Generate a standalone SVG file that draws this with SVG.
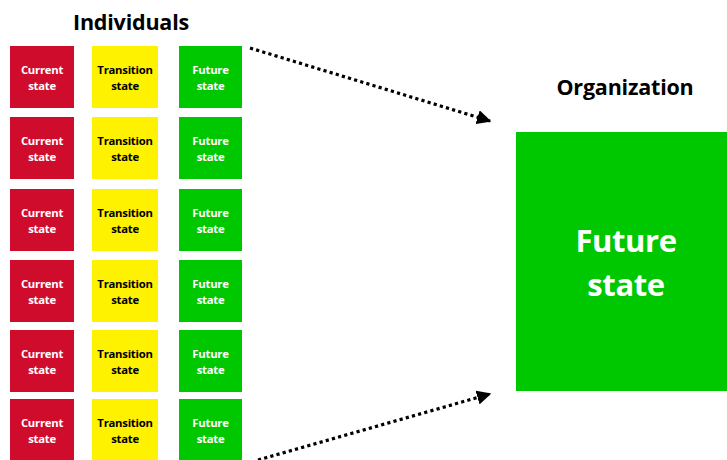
<svg xmlns="http://www.w3.org/2000/svg" width="727" height="460" viewBox="0 0 727 460">
  <defs>
    <style>
      .cur { fill: #d00c2d; }
      .tra { fill: #fff200; }
      .fut { fill: #00c800; }
      .lbl { font-family: "Open Sans", "Liberation Sans", sans-serif; font-weight: bold; font-size: 11.3px; text-anchor: middle; letter-spacing: -0.25px; }
      .w { fill: #ffffff; }
      .k { fill: #000000; }
      .head { font-family: "Open Sans", "Liberation Sans", sans-serif; font-weight: bold; font-size: 21.5px; text-anchor: middle; fill: #000; letter-spacing: -0.2px; }
      .big { font-family: "Open Sans", "Liberation Sans", sans-serif; font-weight: bold; font-size: 31px; text-anchor: middle; fill: #fff; letter-spacing: -0.4px; }
      .conn { fill: none; stroke: #000; stroke-width: 3.2; stroke-dasharray: 3.2 3.2; }
    </style>
    <marker id="arrow" viewBox="0 0 10 10" refX="9" refY="5" markerWidth="4.5" markerHeight="4.5" markerUnits="strokeWidth" orient="auto">
      <path d="M0,0 L10,5 L0,10 z" fill="#000"/>
    </marker>
    <g id="cell-cur">
      <rect class="cur" x="0" y="0" width="64" height="62"/>
      <text class="lbl w" x="32" y="28">Current</text>
      <text class="lbl w" x="32" y="44">state</text>
    </g>
    <g id="cell-tra">
      <rect class="tra" x="0" y="0" width="66" height="62"/>
      <text class="lbl k" x="33" y="28">Transition</text>
      <text class="lbl k" x="33" y="44">state</text>
    </g>
    <g id="cell-fut">
      <rect class="fut" x="0" y="0" width="63" height="62"/>
      <text class="lbl w" x="31.5" y="28">Future</text>
      <text class="lbl w" x="31.5" y="44">state</text>
    </g>
  </defs>

  <rect width="727" height="460" fill="#ffffff"/>

  <text class="head" x="131" y="30">Individuals</text>
  <text class="head" x="625" y="95">Organization</text>

  <!-- individual state rows -->
  <g id="row1">
    <use href="#cell-cur" x="10" y="46"/>
    <use href="#cell-tra" x="92" y="46"/>
    <use href="#cell-fut" x="179" y="46"/>
  </g>
  <g id="row2">
    <use href="#cell-cur" x="10" y="117"/>
    <use href="#cell-tra" x="92" y="117"/>
    <use href="#cell-fut" x="179" y="117"/>
  </g>
  <g id="row3">
    <use href="#cell-cur" x="10" y="189"/>
    <use href="#cell-tra" x="92" y="189"/>
    <use href="#cell-fut" x="179" y="189"/>
  </g>
  <g id="row4">
    <use href="#cell-cur" x="10" y="260"/>
    <use href="#cell-tra" x="92" y="260"/>
    <use href="#cell-fut" x="179" y="260"/>
  </g>
  <g id="row5">
    <use href="#cell-cur" x="10" y="330"/>
    <use href="#cell-tra" x="92" y="330"/>
    <use href="#cell-fut" x="179" y="330"/>
  </g>
  <g id="row6">
    <use href="#cell-cur" x="10" y="399"/>
    <use href="#cell-tra" x="92" y="399"/>
    <use href="#cell-fut" x="179" y="399"/>
  </g>

  <!-- organization future state -->
  <g id="org">
    <rect class="fut" x="516" y="132" width="211" height="259"/>
    <text class="big" x="626" y="252">Future</text>
    <text class="big" x="626" y="296">state</text>
  </g>

  <!-- connectors -->
  <g id="connectors">
    <line class="conn" x1="250" y1="48" x2="490" y2="121" marker-end="url(#arrow)"/>
    <line class="conn" x1="258" y1="460" x2="490" y2="394" marker-end="url(#arrow)"/>
  </g>
</svg>
